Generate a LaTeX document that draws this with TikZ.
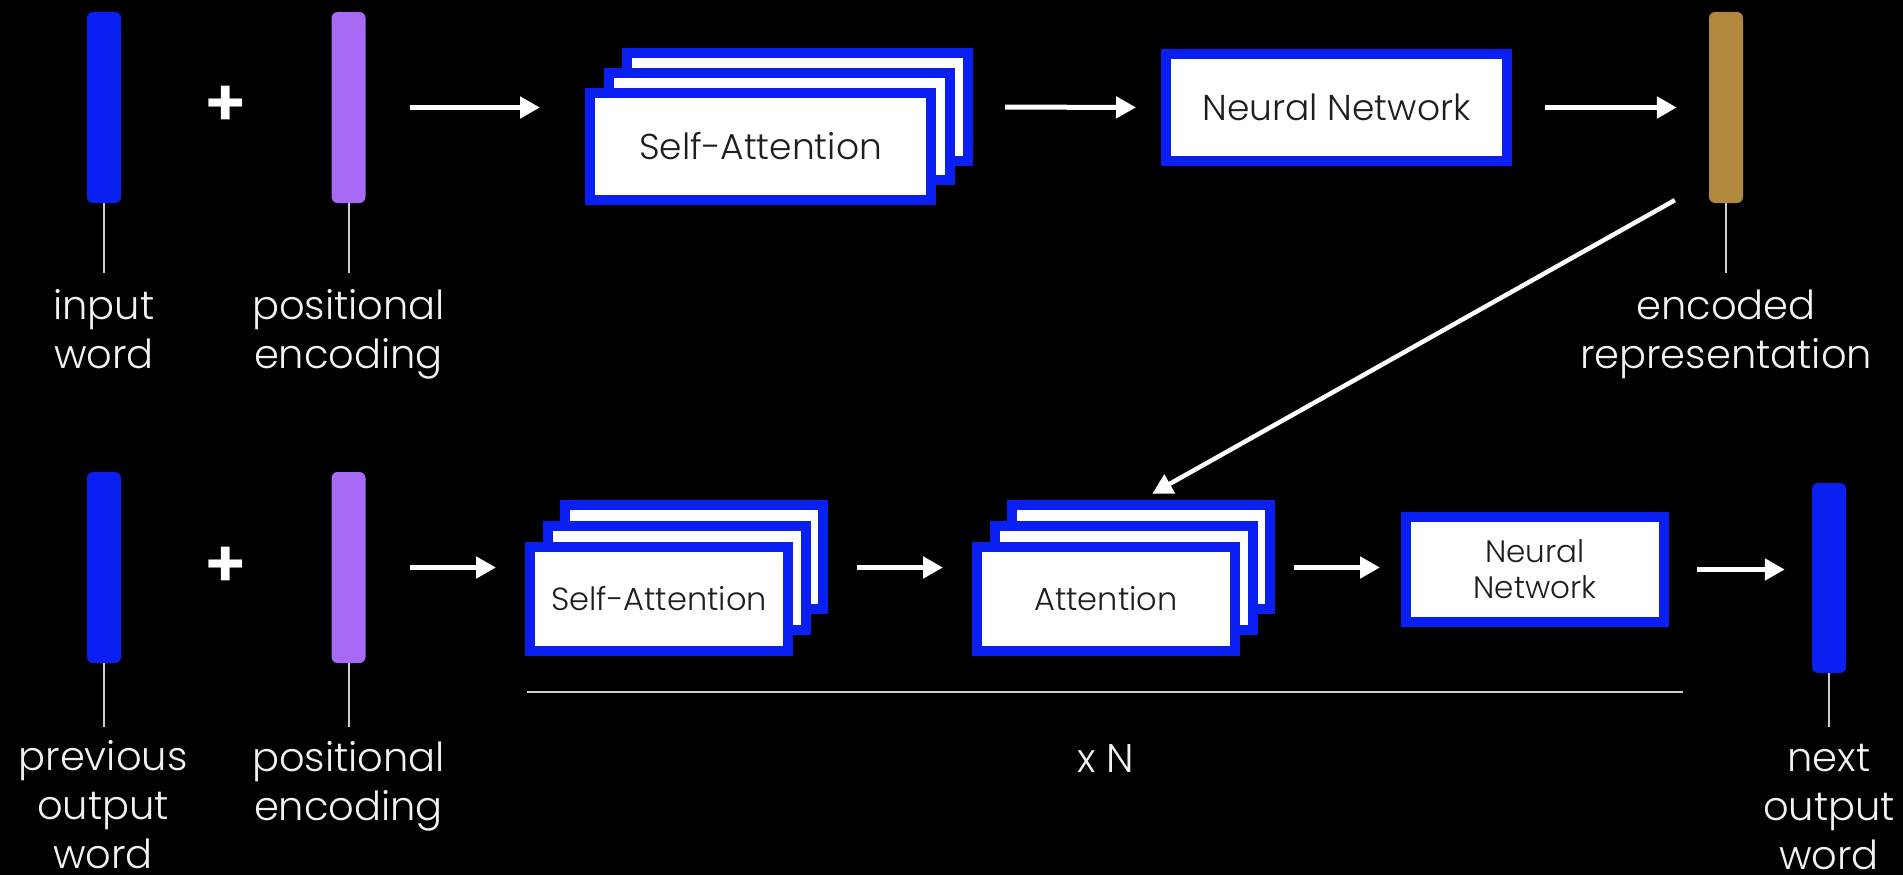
\documentclass[tikz,border=0pt]{standalone}
\usepackage{fontspec}
\setmainfont{Poppins}[UprightFont={* Light}, BoldFont={* SemiBold}]
\usetikzlibrary{arrows.meta}
\definecolor{barblue}{RGB}{10,32,242}
\definecolor{barpurple}{RGB}{166,106,244}
\definecolor{bargold}{RGB}{176,137,62}
\definecolor{boxtext}{RGB}{30,30,30}
\definecolor{labwhite}{RGB}{242,242,242}
\definecolor{tickgray}{RGB}{205,205,205}
\tikzset{
  vecbar/.style={rectangle, rounded corners=6pt, minimum width=34pt, minimum height=191pt, inner sep=0pt, draw=none},
  panel/.style={rectangle, draw=barblue, line width=10pt, fill=white, minimum width=341pt, minimum height=107pt, inner sep=0pt, text=boxtext, font=\fontsize{36}{44}\selectfont},
  panelsm/.style={panel, minimum width=258pt, minimum height=104pt, font=\fontsize{32}{36}\selectfont},
  arr/.style={draw=white, line width=5pt, -{Triangle[length=20pt,width=21pt]}},
  tick/.style={draw=tickgray, line width=2pt},
  lab/.style={text=labwhite, align=center, inner sep=0pt, font=\fontsize{40}{49}\selectfont, anchor=base},
  plus/.style={text=white, inner sep=0pt, font=\bfseries\fontsize{66}{66}\selectfont},
  rule/.style={draw=tickgray, line width=2.5pt}
}
\begin{document}
\begin{tikzpicture}[x=1pt,y=-1pt]
\fill[black] (0,0) rectangle (1903,875);
\useasboundingbox (0,0) rectangle (1903,875);

% ---------- encoder row ----------
\node[vecbar, fill=barblue] (ib) at (104,107.5) {};
\node[plus] (p1) at (226,106) {+};
\node[vecbar, fill=barpurple] (pe1) at (348.5,107.5) {};

\node[panel] (sa1b) at (797.5,107) {};
\node[panel] (sa1m) at (779,126.5) {};
\node[panel] (sa1f) at (760.5,146.5) {Self-Attention};

\node[panel] (nn1) at (1336.5,107.5) {Neural Network};

\node[vecbar, fill=bargold] (enc) at (1726,107.5) {};

\draw[arr, shorten <=44pt, shorten >=45pt] (pe1.east) -- (pe1.east -| sa1f.west);
\draw[arr, shorten <=32pt, shorten >=25pt] (sa1b.east) -- (nn1.west);
\draw[arr, shorten <=33pt, shorten >=32pt] (nn1.east) -- (nn1.east -| enc.west);

\draw[tick] (ib.south) -- ++(0,70);
\draw[tick] (pe1.south) -- ++(0,70);
\draw[tick] (enc.south) -- ++(0,70);

% base anchor = baseline of the last line
\node[lab] (lib) at (104,368) {input\\word};
\node[lab] (lpe1) at (348.5,368) {positional\\encoding};
\node[lab] (lenc) at (1726,368) {encoded\\representation};

% ---------- decoder row ----------
\node[vecbar, fill=barblue] (pb) at (104,567.5) {};
\node[plus] (p2) at (226,567) {+};
\node[vecbar, fill=barpurple] (pe2) at (348.5,567.5) {};

\node[panelsm] (sa2b) at (694,557) {};
\node[panelsm] (sa2m) at (676.5,578) {};
\node[panelsm] (sa2f) at (659,599) {Self-Attention};

\node[panelsm] (at2b) at (1141,557) {};
\node[panelsm] (at2m) at (1123.5,578) {};
\node[panelsm] (at2f) at (1106,599) {Attention};

\node[panelsm, minimum height=105pt, align=center, font=\fontsize{31}{36}\selectfont] (nn2) at (1535,569.5) {Neural\\Network};

\node[vecbar, fill=barblue, minimum height=190pt] (nb) at (1829,578) {};

\draw[arr, shorten <=44pt, shorten >=29pt] (pe2.east) -- (pe2.east -| sa2f.west);
\draw[arr, shorten <=29pt, shorten >=29pt] (sa2b.east |- pe2.east) -- (pe2.east -| at2f.west);
\draw[arr, shorten <=19pt, shorten >=21pt] (at2b.east |- pe2.east) -- (pe2.east -| nn2.west);
\draw[arr, shorten <=28pt, shorten >=27pt] (nn2.east) -- (nn2.east -| nb.west);

\coordinate (dstart) at ([xshift=-34pt,yshift=3pt]enc.south west);
\draw[arr, line width=4.5pt, shorten >=13pt] (dstart) -- (at2b.north);

\draw[tick] (pb.south) -- ++(0,64);
\draw[tick] (pe2.south) -- ++(0,64);
\draw[tick] (nb.south) -- ++(0,54);

\coordinate (rl) at (527,692);
\coordinate (rr) at (1683,692);
\draw[rule] (rl) -- (rr);
\node[lab] (xn) at (1106,772) {x N};

\node[lab] (lpb) at (103,868) {previous\\output\\word};
\node[lab] (lpe2) at (348.5,820) {positional\\encoding};
\node[lab] (lnb) at (1829,869) {next\\output\\word};
\end{tikzpicture}
\end{document}
